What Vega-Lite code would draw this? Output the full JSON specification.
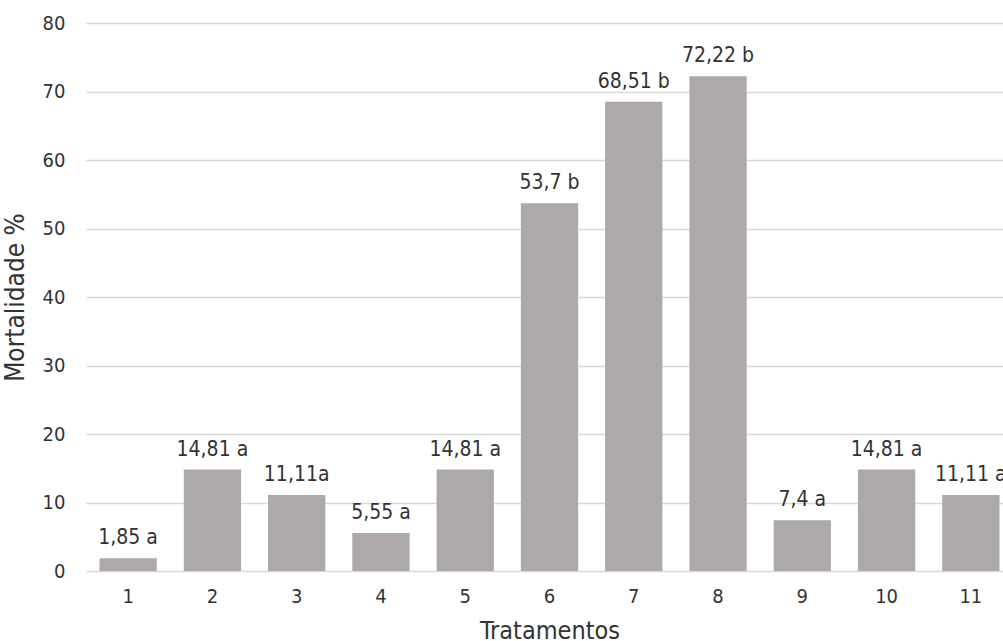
{
  "$schema": "https://vega.github.io/schema/vega-lite/v6.json",
  "autosize": {"type": "none"},
  "padding": {"left": 86, "top": 23, "right": 0, "bottom": 70},
  "width": 927,
  "height": 548,
  "background": "white",
  "config": {
    "view": {"stroke": null},
    "font": "DejaVu Sans Condensed, sans-serif",
    "axis": {"labelFont": "DejaVu Sans Condensed, sans-serif", "titleFont": "DejaVu Sans Condensed, sans-serif", "labelColor": "#333333", "titleColor": "#333333", "titleFontWeight": "normal"}
  },
  "data": {
    "values": [
      {"tratamento": "1", "mortalidade": 1.85, "label": "1,85 a"},
      {"tratamento": "2", "mortalidade": 14.81, "label": "14,81 a"},
      {"tratamento": "3", "mortalidade": 11.11, "label": "11,11a"},
      {"tratamento": "4", "mortalidade": 5.55, "label": "5,55 a"},
      {"tratamento": "5", "mortalidade": 14.81, "label": "14,81 a"},
      {"tratamento": "6", "mortalidade": 53.7, "label": "53,7 b"},
      {"tratamento": "7", "mortalidade": 68.51, "label": "68,51 b"},
      {"tratamento": "8", "mortalidade": 72.22, "label": "72,22 b"},
      {"tratamento": "9", "mortalidade": 7.4, "label": "7,4 a"},
      {"tratamento": "10", "mortalidade": 14.81, "label": "14,81 a"},
      {"tratamento": "11", "mortalidade": 11.11, "label": "11,11 a"}
    ]
  },
  "encoding": {
    "x": {
      "field": "tratamento", "type": "ordinal", "sort": null,
      "scale": {"paddingInner": 0.32, "paddingOuter": 0.16},
      "axis": {"title": "Tratamentos", "labelAngle": 0, "ticks": false, "domain": false, "labelFontSize": 20, "labelPadding": 15, "titleFontSize": 25, "titleBaseline": "alphabetic", "titleY": 67}
    },
    "y": {
      "field": "mortalidade", "type": "quantitative",
      "scale": {"domain": [0, 80], "nice": false},
      "axis": {"title": "Mortalidade %", "values": [0, 10, 20, 30, 40, 50, 60, 70, 80], "ticks": false, "domain": false, "gridColor": "#D9D9D9", "gridWidth": 1.5, "labelFontSize": 20, "labelPadding": 21, "titleFontSize": 26, "titleBaseline": "alphabetic", "titleX": -63}
    }
  },
  "layer": [
    {"mark": {"type": "bar", "color": "#ADA9A8"}},
    {
      "mark": {"type": "text", "baseline": "alphabetic", "dy": -14, "fontSize": 21, "color": "#333333", "font": "DejaVu Sans Condensed, sans-serif"},
      "encoding": {"text": {"field": "label"}}
    }
  ]
}
